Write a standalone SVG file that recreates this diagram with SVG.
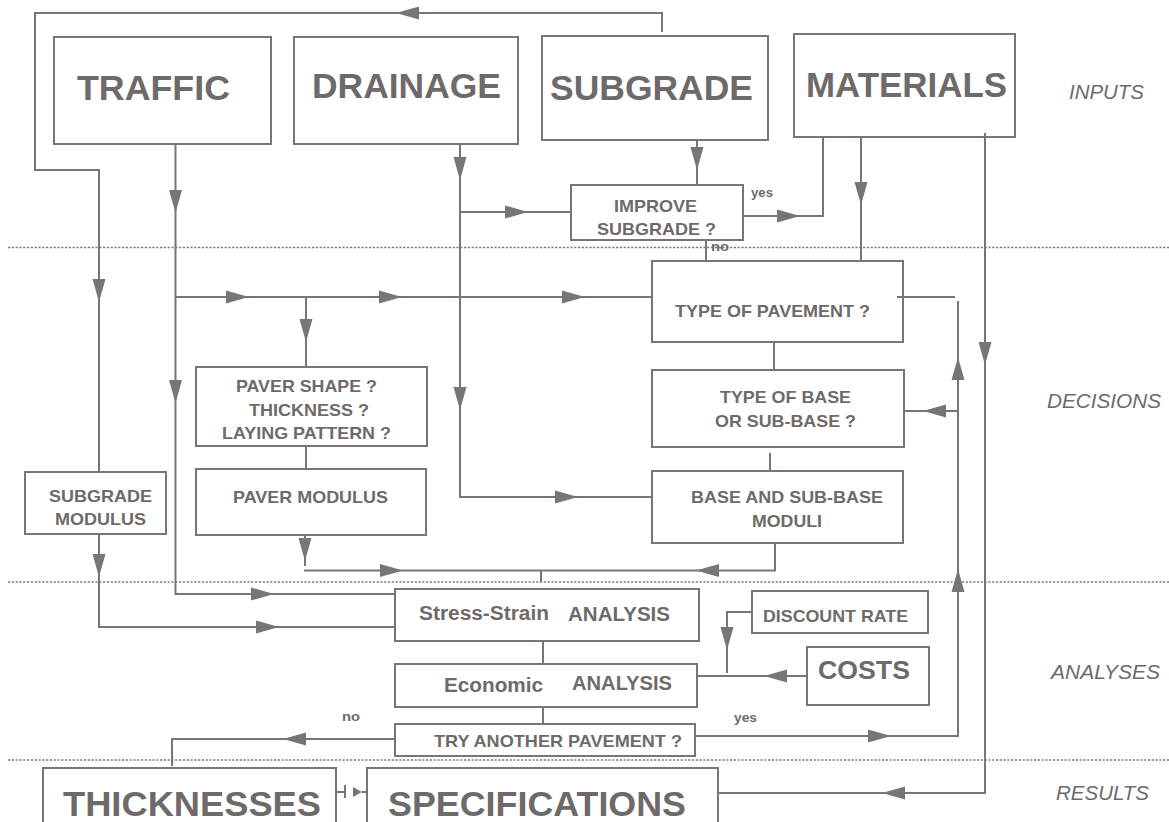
<svg xmlns="http://www.w3.org/2000/svg" xmlns:xlink="http://www.w3.org/1999/xlink" width="1169" height="822" viewBox="0 0 1169 822">
<style>
.box{fill:none;stroke:#7a7575;stroke-width:2}
.ln{fill:none;stroke:#7a7575;stroke-width:2}
.dot{fill:none;stroke:#7f7a7a;stroke-width:1.7;stroke-dasharray:2.2 1.6}
.ah{fill:#7a7575}
text{font-family:"Liberation Sans",Arial,sans-serif;font-weight:bold;fill:#6e6a6a}
.big{font-size:35px}
.sm{font-size:17px}
.md{font-size:20px}
.tiny{font-size:13px}
.sec{font-size:20px;font-style:italic;font-weight:normal}
</style>
<defs>
<path id="ah" d="M0,0 L-23,-6.5 L-23,6.5 Z"/>
</defs>
<rect x="0" y="0" width="1169" height="822" fill="#ffffff"/>

<g id="separators">
<line class="dot" x1="8" y1="247.5" x2="1169" y2="247.5"/>
<line class="dot" x1="8" y1="582" x2="1169" y2="582"/>
<line class="dot" x1="8" y1="760" x2="1169" y2="760"/>
</g>

<g id="section-labels">
<text class="sec" x="1069" y="99" textLength="75" lengthAdjust="spacingAndGlyphs">INPUTS</text>
<text class="sec" x="1047" y="408" textLength="114" lengthAdjust="spacingAndGlyphs">DECISIONS</text>
<text class="sec" x="1051" y="679" textLength="109" lengthAdjust="spacingAndGlyphs">ANALYSES</text>
<text class="sec" x="1056" y="800" textLength="93" lengthAdjust="spacingAndGlyphs">RESULTS</text>
</g>

<g id="connectors">
<path class="ln" d="M662,32 V13 H35 V170 H99 V472"/>
<path class="ln" d="M175.5,144 V594 H395"/>
<path class="ln" d="M175.5,297 H652"/>
<path class="ln" d="M306,297 V367"/>
<path class="ln" d="M460,144 V497 H652"/>
<path class="ln" d="M460,212 H571"/>
<path class="ln" d="M697,140 V185"/>
<path class="ln" d="M743,216 H823 V137"/>
<path class="ln" d="M706,240 V261"/>
<path class="ln" d="M861,137 V261"/>
<path class="ln" d="M985,133 V793 H718"/>
<path class="ln" d="M774,342 V370"/>
<path class="ln" d="M770,453 V471"/>
<path class="ln" d="M897,297 H955"/>
<path class="ln" d="M958,301 V736 H695"/>
<path class="ln" d="M958,411 H904"/>
<path class="ln" d="M306,446 V469"/>
<path class="ln" d="M305,535 V566"/>
<path class="ln" d="M304,570.5 H775 V543"/>
<path class="ln" d="M541,570.5 V582"/>
<path class="ln" d="M99,534 V627 H395"/>
<path class="ln" d="M543,641 V664"/>
<path class="ln" d="M543,707 V724"/>
<path class="ln" d="M752,612 H727 V673"/>
<path class="ln" d="M807,676 H697"/>
<path class="ln" d="M395,739 H172 V766"/>
<path class="ln" d="M336,792 H345 M345,785 V798 M362,792 H367"/>
<path class="ah" d="M362,792 L353,787 L353,797 Z"/>
<use xlink:href="#ah" class="ah" transform="translate(396,13) rotate(180)"/>
<use xlink:href="#ah" class="ah" transform="translate(99,302) rotate(90)"/>
<use xlink:href="#ah" class="ah" transform="translate(175.5,213) rotate(90)"/>
<use xlink:href="#ah" class="ah" transform="translate(175.5,403) rotate(90)"/>
<use xlink:href="#ah" class="ah" transform="translate(274,594)"/>
<use xlink:href="#ah" class="ah" transform="translate(249,297)"/>
<use xlink:href="#ah" class="ah" transform="translate(402,297)"/>
<use xlink:href="#ah" class="ah" transform="translate(585,297)"/>
<use xlink:href="#ah" class="ah" transform="translate(306,342) rotate(90)"/>
<use xlink:href="#ah" class="ah" transform="translate(460,180) rotate(90)"/>
<use xlink:href="#ah" class="ah" transform="translate(460,410) rotate(90)"/>
<use xlink:href="#ah" class="ah" transform="translate(578,497)"/>
<use xlink:href="#ah" class="ah" transform="translate(528,212)"/>
<use xlink:href="#ah" class="ah" transform="translate(697,170) rotate(90)"/>
<use xlink:href="#ah" class="ah" transform="translate(800,216)"/>
<use xlink:href="#ah" class="ah" transform="translate(861,205) rotate(90)"/>
<use xlink:href="#ah" class="ah" transform="translate(985,365) rotate(90)"/>
<use xlink:href="#ah" class="ah" transform="translate(882,793) rotate(180)"/>
<use xlink:href="#ah" class="ah" transform="translate(958,357) rotate(-90)"/>
<use xlink:href="#ah" class="ah" transform="translate(923,411) rotate(180)"/>
<use xlink:href="#ah" class="ah" transform="translate(958,569) rotate(-90)"/>
<use xlink:href="#ah" class="ah" transform="translate(891,736)"/>
<use xlink:href="#ah" class="ah" transform="translate(305,561) rotate(90)"/>
<use xlink:href="#ah" class="ah" transform="translate(403,570.5)"/>
<use xlink:href="#ah" class="ah" transform="translate(696,570.5) rotate(180)"/>
<use xlink:href="#ah" class="ah" transform="translate(99,577) rotate(90)"/>
<use xlink:href="#ah" class="ah" transform="translate(279,627)"/>
<use xlink:href="#ah" class="ah" transform="translate(727,650) rotate(90)"/>
<use xlink:href="#ah" class="ah" transform="translate(764,676) rotate(180)"/>
<use xlink:href="#ah" class="ah" transform="translate(283,739) rotate(180)"/>
<text class="tiny" x="751" y="197" textLength="22" lengthAdjust="spacingAndGlyphs">yes</text>
<text class="tiny" x="711" y="251" textLength="18" lengthAdjust="spacingAndGlyphs">no</text>
<text class="tiny" x="342" y="721" textLength="18" lengthAdjust="spacingAndGlyphs">no</text>
<text class="tiny" x="734" y="722" textLength="23" lengthAdjust="spacingAndGlyphs">yes</text>
</g>

<g id="traffic">
<rect class="box" x="54" y="37" width="217" height="107"/>
<text class="big" x="77" y="100" textLength="153" lengthAdjust="spacingAndGlyphs">TRAFFIC</text>
</g>
<g id="drainage">
<rect class="box" x="294" y="37" width="224" height="107"/>
<text class="big" x="312" y="98" textLength="189" lengthAdjust="spacingAndGlyphs">DRAINAGE</text>
</g>
<g id="subgrade">
<rect class="box" x="542" y="36" width="226" height="104"/>
<text class="big" x="550" y="100" textLength="203" lengthAdjust="spacingAndGlyphs">SUBGRADE</text>
</g>
<g id="materials">
<rect class="box" x="794" y="34" width="221" height="103"/>
<text class="big" x="806" y="97" textLength="201" lengthAdjust="spacingAndGlyphs">MATERIALS</text>
</g>
<g id="improve-subgrade">
<rect class="box" x="571" y="185" width="172" height="55"/>
<text class="sm" x="614" y="212" textLength="83" lengthAdjust="spacingAndGlyphs">IMPROVE</text>
<text class="sm" x="597" y="235" textLength="119" lengthAdjust="spacingAndGlyphs">SUBGRADE ?</text>
</g>
<g id="type-of-pavement">
<rect class="box" x="652" y="261" width="251" height="81"/>
<text class="sm" x="675" y="317" textLength="195" lengthAdjust="spacingAndGlyphs">TYPE OF PAVEMENT ?</text>
</g>
<g id="type-of-base">
<rect class="box" x="652" y="370" width="252" height="77"/>
<text class="sm" x="720" y="403" textLength="131" lengthAdjust="spacingAndGlyphs">TYPE OF BASE</text>
<text class="sm" x="715" y="427" textLength="141" lengthAdjust="spacingAndGlyphs">OR SUB-BASE ?</text>
</g>
<g id="base-moduli">
<rect class="box" x="652" y="471" width="251" height="72"/>
<text class="sm" x="691" y="503" textLength="192" lengthAdjust="spacingAndGlyphs">BASE AND SUB-BASE</text>
<text class="sm" x="752" y="527" textLength="70" lengthAdjust="spacingAndGlyphs">MODULI</text>
</g>
<g id="paver-shape">
<rect class="box" x="196" y="367" width="231" height="79"/>
<text class="sm" x="236" y="392" textLength="141" lengthAdjust="spacingAndGlyphs">PAVER SHAPE ?</text>
<text class="sm" x="249" y="416" textLength="120" lengthAdjust="spacingAndGlyphs">THICKNESS ?</text>
<text class="sm" x="222" y="439" textLength="169" lengthAdjust="spacingAndGlyphs">LAYING PATTERN ?</text>
</g>
<g id="paver-modulus">
<rect class="box" x="196" y="469" width="230" height="66"/>
<text class="sm" x="233" y="503" textLength="155" lengthAdjust="spacingAndGlyphs">PAVER MODULUS</text>
</g>
<g id="subgrade-modulus">
<rect class="box" x="25" y="472" width="141" height="62"/>
<text class="sm" x="49" y="502" textLength="103" lengthAdjust="spacingAndGlyphs">SUBGRADE</text>
<text class="sm" x="55" y="525" textLength="91" lengthAdjust="spacingAndGlyphs">MODULUS</text>
</g>
<g id="stress-strain">
<rect class="box" x="395" y="589" width="304" height="52"/>
<text class="md" x="419" y="620" textLength="130" lengthAdjust="spacingAndGlyphs">Stress-Strain</text>
<text class="md" x="568" y="621" textLength="102" lengthAdjust="spacingAndGlyphs">ANALYSIS</text>
</g>
<g id="economic">
<rect class="box" x="395" y="664" width="302" height="43"/>
<text class="md" x="444" y="692" textLength="99" lengthAdjust="spacingAndGlyphs">Economic</text>
<text class="md" x="572" y="690" textLength="100" lengthAdjust="spacingAndGlyphs">ANALYSIS</text>
</g>
<g id="try-another">
<rect class="box" x="395" y="724" width="300" height="32"/>
<text class="sm" x="434" y="747" textLength="248" lengthAdjust="spacingAndGlyphs">TRY ANOTHER PAVEMENT ?</text>
</g>
<g id="discount-rate">
<rect class="box" x="752" y="591" width="176" height="42"/>
<text class="sm" x="763" y="622" textLength="145" lengthAdjust="spacingAndGlyphs">DISCOUNT RATE</text>
</g>
<g id="costs">
<rect class="box" x="807" y="647" width="122" height="58"/>
<text class="md" style="font-size:26px" x="818" y="679" textLength="92" lengthAdjust="spacingAndGlyphs">COSTS</text>
</g>
<g id="thicknesses">
<rect class="box" x="43" y="768" width="293" height="70"/>
<text class="big" x="63" y="816" textLength="258" lengthAdjust="spacingAndGlyphs">THICKNESSES</text>
</g>
<g id="specifications">
<rect class="box" x="367" y="768" width="351" height="70"/>
<text class="big" x="388" y="816" textLength="298" lengthAdjust="spacingAndGlyphs">SPECIFICATIONS</text>
</g>
</svg>
